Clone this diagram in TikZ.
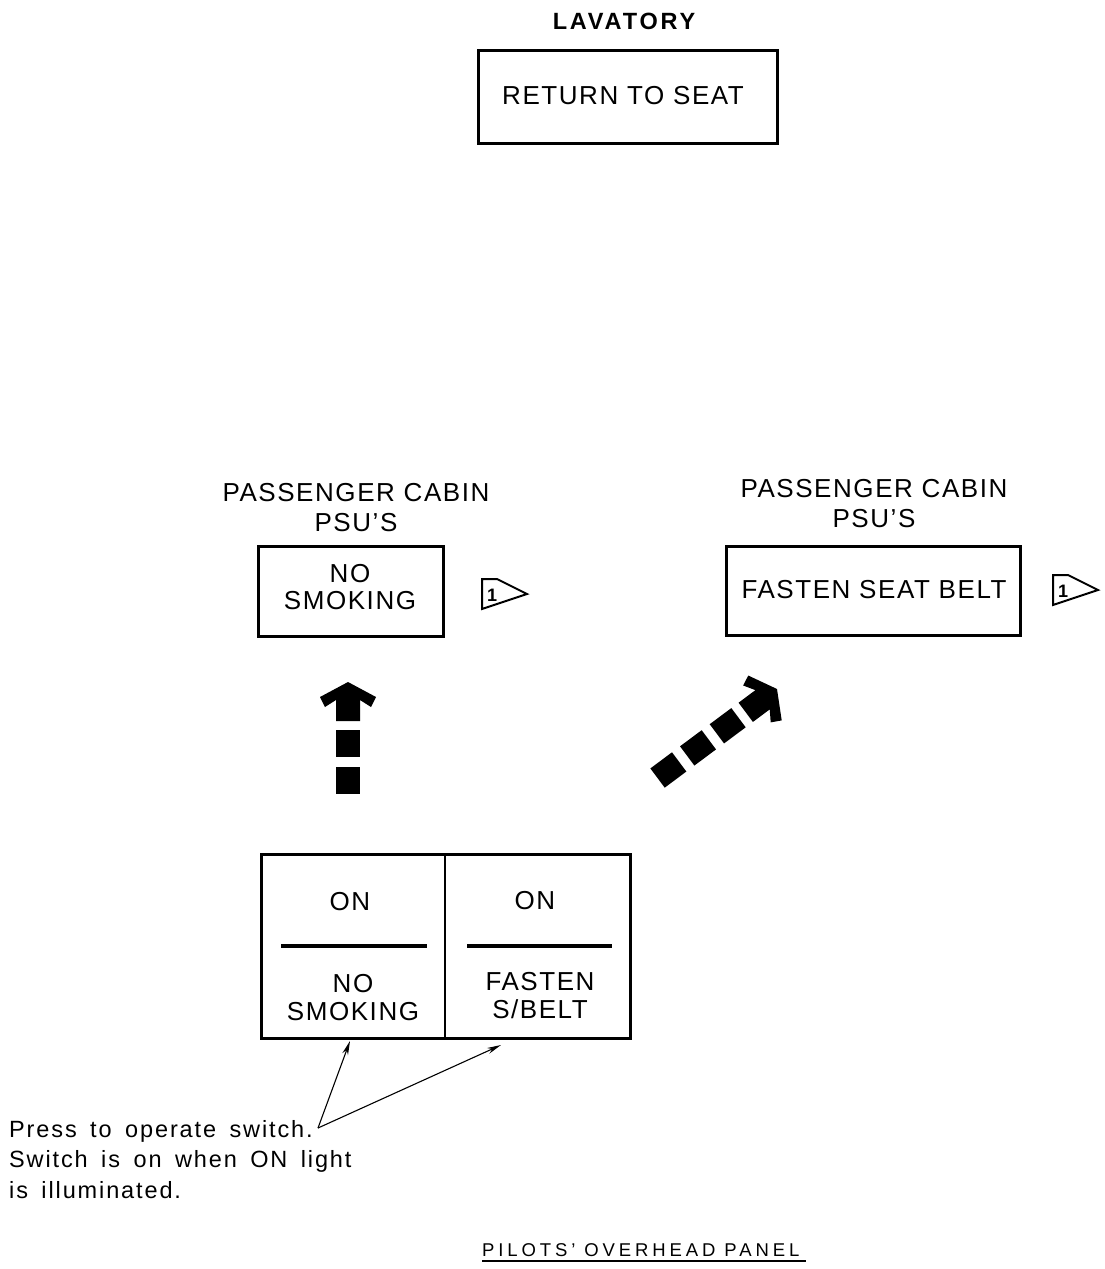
\documentclass[tikz,border=0pt]{standalone}
\usepackage{fontspec}
\setmainfont{Liberation Sans}
\newfontfamily\labfont[LetterSpace=6]{Liberation Sans}
\newfontfamily\labbfont[LetterSpace=12]{Liberation Sans}
\newfontfamily\notefont[LetterSpace=8,WordSpace=1.6]{Liberation Sans}
\newfontfamily\titlefont[LetterSpace=21]{Liberation Sans}
\usetikzlibrary{arrows.meta}
\tikzset{
  panelbox/.style={draw, line width=3pt, rectangle, inner sep=0pt, outer sep=0pt},
  lbl/.style={font=\labfont\fontsize{26}{30}\selectfont, align=center, inner sep=0pt, anchor=base},
  lblb/.style={font=\labbfont\bfseries\fontsize{23.5}{28}\selectfont, inner sep=0pt, anchor=base},
  notetext/.style={font=\notefont\fontsize{23.5}{30.5}\selectfont, align=left, inner sep=0pt, anchor=base west},
  titletext/.style={font=\titlefont\fontsize{18.5}{20}\selectfont, inner sep=0pt, anchor=base west},
  leader/.style={line width=1.1pt, -{Stealth[length=14pt,width=6pt]}},
  pics/flagmark/.style={code={
    \draw[line width=2pt, line join=miter] (0,0) -- (15,0) -- (45,15) -- (0,30) -- cycle;
    \node[inner sep=0pt, font=\bfseries\fontsize{18}{18}\selectfont] (-n) at (10,16) {1};
  }},
  pics/bigarrow/.style={code={
    \fill (0,0) -- (28,15) -- (23,25) -- (12,18) -- (12,39) -- (-12,39) -- (-12,18) -- (-23,25) -- (-28,15) -- cycle;
    \foreach \k in {1,...,#1} { \fill (-12,{11+37*\k}) rectangle (12,{38+37*\k}); }
  }}
}
\begin{document}
\begin{tikzpicture}[x=1pt,y=-1pt]
\useasboundingbox[fill=white] (0,0) rectangle (1105,1269);

% Lavatory
\node[lblb] (lav) at (624,29) {LAVATORY};
\node[panelbox, minimum width=299pt, minimum height=93pt] (rtsbox) at (628,97) {};
\node[lbl] (rts) at (623,104) {RETURN TO SEAT};

% Passenger cabin left
\node[lbl] (pcl) at (356,531) {PASSENGER CABIN\\PSU’S};
\node[panelbox, minimum width=185pt, minimum height=90pt] (nsbox) at (351,591.5) {};
\node[lbl, font=\labfont\fontsize{26}{27}\selectfont] (nstext) at (350,609) {NO\\SMOKING};
\pic (fl1) at (482,579) {flagmark};

% Passenger cabin right
\node[lbl] (pcr) at (874,527) {PASSENGER CABIN\\PSU’S};
\node[panelbox, minimum width=294pt, minimum height=89pt] (fsbbox) at (873.5,591) {};
\node[lbl] (fsb) at (874,598) {FASTEN SEAT BELT};
\pic (fl2) at (1053,575) {flagmark};

% Big dashed arrows
\pic at (348,682) {bigarrow=2};
\pic[rotate=-53.3] at (777,689) {bigarrow=3};

% Overhead panel switches
\node[panelbox, minimum width=369pt, minimum height=184pt] (panel) at (446,946.5) {};
\draw[line width=2.5pt] (panel.north) ++(-1,0) coordinate (dtop) -- (dtop |- panel.south);
\draw[line width=3.5pt] (281,946) -- (427,946);
\draw[line width=3.5pt] (467,946) -- (612,946);
\node[lbl] (on1) at (350,910) {ON};
\node[lbl] (on2) at (535,909) {ON};
\node[lbl, font=\labfont\fontsize{26}{28}\selectfont] (ns2) at (353,1020) {NO\\SMOKING};
\node[lbl, font=\labfont\fontsize{26}{28}\selectfont] (fs2) at (540,1018) {FASTEN\\S/BELT};

% Leaders
\coordinate (apex) at (318,1128);
\coordinate (t1) at (350,1041);
\coordinate (t2) at (501,1045);
\draw[leader] (apex) -- (t1);
\draw[leader] (apex) -- (t2);
\node[notetext] (note) at (9,1198) {Press to operate switch.\\Switch is on when ON light\\is illuminated.};

% Title
\node[titletext] (title) at (482,1256) {PILOTS’ OVERHEAD PANEL};
\draw[line width=1.2pt] (482,1261) -- (806,1261);
\end{tikzpicture}
\end{document}
